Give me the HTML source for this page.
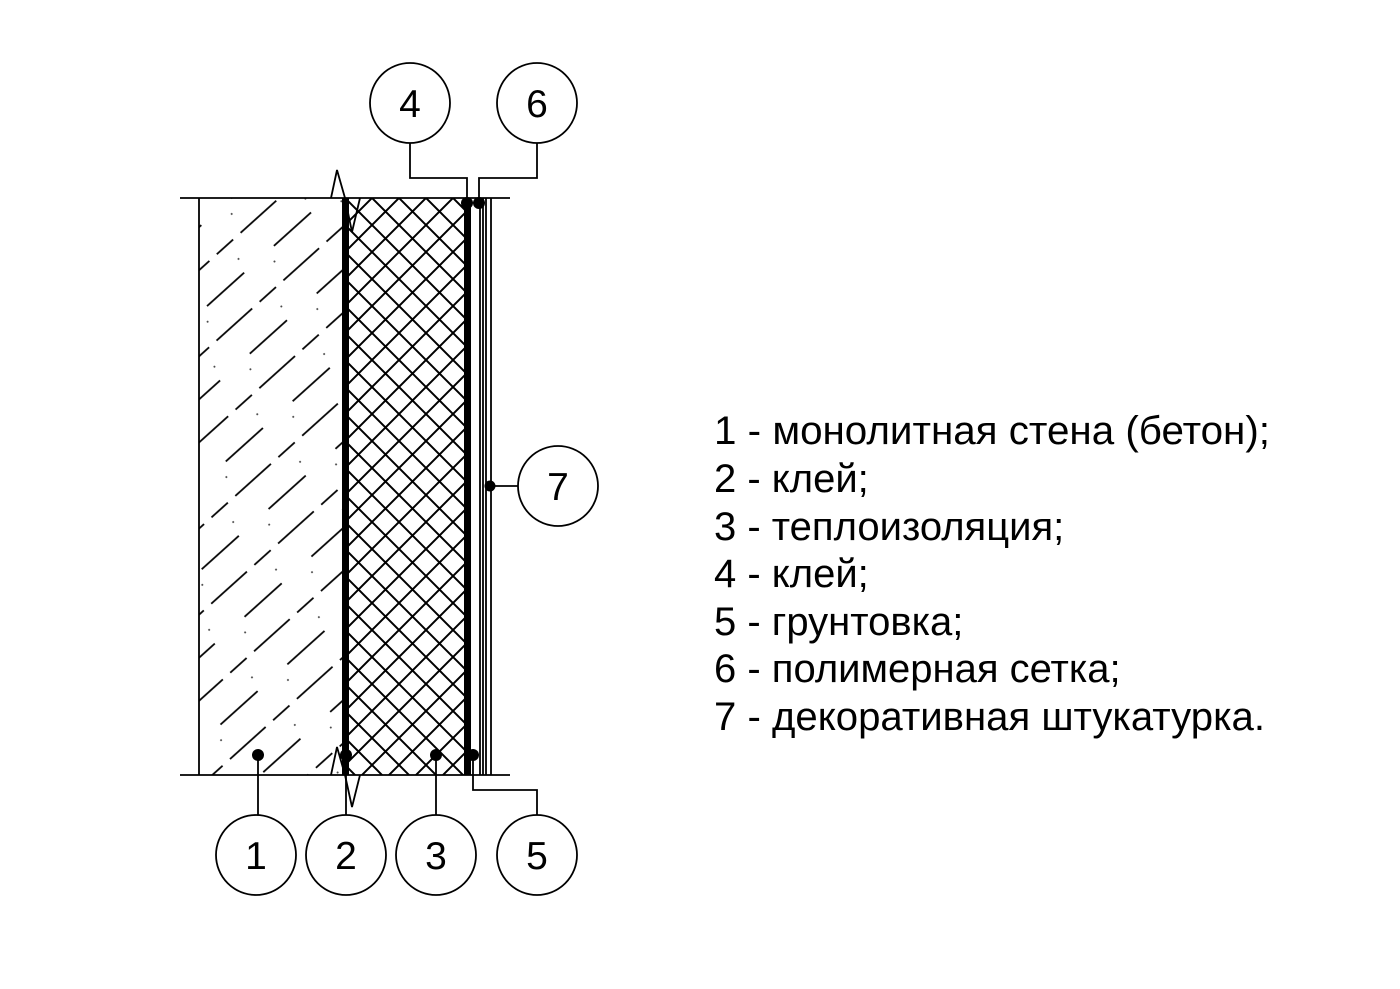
<!DOCTYPE html>
<html><head><meta charset="utf-8"><style>body{margin:0;background:#fff}svg{display:block}</style></head>
<body>
<svg width="1400" height="989" viewBox="0 0 1400 989" xmlns="http://www.w3.org/2000/svg">
<defs>
<pattern id="cross" patternUnits="userSpaceOnUse" width="27" height="27" x="345" y="198">
<path d="M0,0 L27,27 M27,0 L0,27" stroke="#000" stroke-width="2" fill="none"/>
</pattern>
<pattern id="conc" patternUnits="userSpaceOnUse" width="90" height="64" x="199" y="198" patternTransform="rotate(-42)">
<path d="M4,8 H52 M62,8 H84 M20,40 H70" stroke="#000" stroke-width="1.8"/>
<circle cx="75" cy="26" r="1" fill="#444"/><circle cx="10" cy="52" r="1" fill="#444"/>
</pattern>
</defs>
<rect x="199" y="198" width="144" height="577" fill="url(#conc)"/>
<rect x="349" y="198" width="116" height="577" fill="url(#cross)"/>
<g stroke="#000" fill="none" stroke-width="1.8">
<line x1="180" y1="198" x2="510" y2="198"/>
<line x1="180" y1="775" x2="510" y2="775"/>
<line x1="199" y1="198" x2="199" y2="775"/>
<line x1="480" y1="198" x2="480" y2="775"/>
<line x1="483" y1="198" x2="483" y2="775"/>
<line x1="486" y1="198" x2="486" y2="775"/>
<line x1="491" y1="198" x2="491" y2="775"/>
<path d="M331,198 L337,170 L345,198 L352,232 L360,198"/>
<path d="M331,775 L337,747 L345,775 L352,807 L360,775"/>
<path d="M410,143 V178 H467 V203"/>
<path d="M537,143 V178 H479 V203"/>
<path d="M518,486 H490"/>
<path d="M258,755 V815 M346,755 V815 M436,755 V815"/>
<path d="M473,755 V790 H537 V815"/>
<circle cx="410" cy="103" r="40"/><circle cx="537" cy="103" r="40"/>
<circle cx="558" cy="486" r="40"/>
<circle cx="256" cy="855" r="40"/><circle cx="346" cy="855" r="40"/>
<circle cx="436" cy="855" r="40"/><circle cx="537" cy="855" r="40"/>
</g>
<rect x="342" y="198" width="7" height="577" fill="#000"/>
<rect x="464" y="198" width="7" height="577" fill="#000"/>
<g fill="#000">
<circle cx="467" cy="203" r="6"/><circle cx="479" cy="203" r="6"/>
<circle cx="490" cy="486" r="5.5"/>
<circle cx="258" cy="755" r="6"/><circle cx="346" cy="755" r="6"/><circle cx="436" cy="755" r="6"/><circle cx="473" cy="755" r="6"/>
</g>
<g font-family="Liberation Sans, sans-serif" font-size="39" text-anchor="middle" fill="#000">
<text x="410" y="117">4</text><text x="537" y="117">6</text><text x="558" y="500">7</text>
<text x="256" y="869">1</text><text x="346" y="869">2</text><text x="436" y="869">3</text><text x="537" y="869">5</text>
</g>
<g font-family="Liberation Sans, sans-serif" font-size="40" fill="#000">
<text x="714" y="444" textLength="556" lengthAdjust="spacingAndGlyphs">1 - монолитная стена (бетон);</text>
<text x="714" y="492">2 - клей;</text>
<text x="714" y="540">3 - теплоизоляция;</text>
<text x="714" y="587">4 - клей;</text>
<text x="714" y="635">5 - грунтовка;</text>
<text x="714" y="682">6 - полимерная сетка;</text>
<text x="714" y="730" textLength="551" lengthAdjust="spacingAndGlyphs">7 - декоративная штукатурка.</text>
</g>
</svg>
</body></html>
